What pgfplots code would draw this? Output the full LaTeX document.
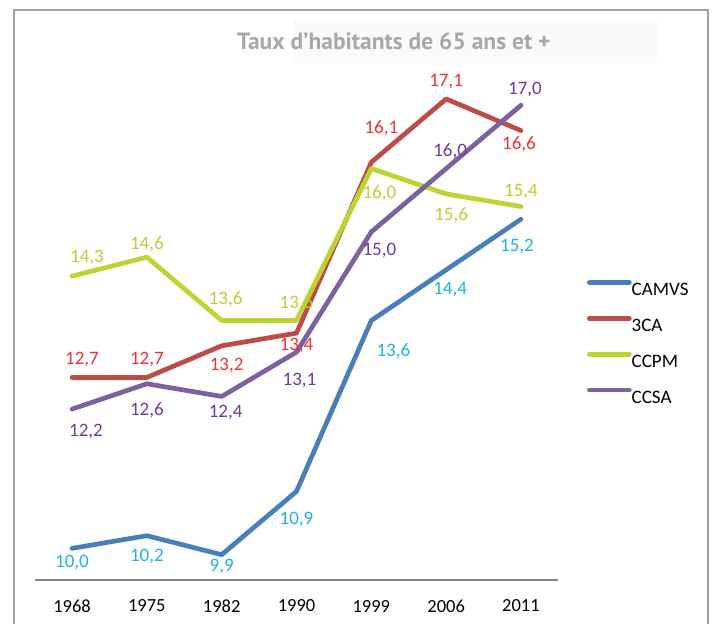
\documentclass[border=0pt]{standalone}
\usepackage{fontspec}
\setmainfont{Carlito}
\newfontfamily\titlefont{PT Sans}
\usepackage{pgfplots}
\usepackage{pgfplotstable}
\pgfplotsset{compat=1.18}

\definecolor{camvs}{RGB}{74,126,187}
\definecolor{tca}{RGB}{190,75,72}
\definecolor{ccpm}{RGB}{187,212,50}
\definecolor{ccsa}{RGB}{125,96,160}
\definecolor{camvsL}{RGB}{32,176,232}
\definecolor{tcaL}{RGB}{240,50,50}
\definecolor{ccpmL}{RGB}{181,208,52}
\definecolor{ccsaL}{RGB}{112,56,160}
\definecolor{titlegray}{RGB}{168,168,168}
\definecolor{framegray}{RGB}{160,160,160}
\definecolor{axisgray}{RGB}{134,134,134}
\definecolor{titlebg}{RGB}{250,250,250}

\pgfplotstableread{
x y dx dy lab
0 10.0 0 14 10,0
1 10.2 0 21 10,2
2 9.9 0 12 9,9
3 10.9 0 28 10,9
4 13.6 22 31 13,6
5 14.4 4 20 14,4
6 15.2 -4 27 15,2
}\tcamvs
\pgfplotstableread{
x y dx dy lab
0 12.7 10 -18 12,7
1 12.7 0 -18 12,7
2 13.2 5 20 13,2
3 13.4 0 12 13,4
4 16.1 10 -34 16,1
5 17.1 0 -17 17,1
6 16.6 -2 14 16,6
}\ttca
\pgfplotstableread{
x y dx dy lab
0 14.3 15 -19 14,3
1 14.6 0 -13 14,6
2 13.6 4 -21 13,6
3 13.6 0 -17 13,6
4 16.0 8 25 16,0
5 15.6 5 21 15,6
6 15.4 0 -15 15,4
}\tccpm
\pgfplotstableread{
x y dx dy lab
0 12.2 14 22 12,2
1 12.6 0 27 12,6
2 12.4 4 16 12,4
3 13.1 3 28 13,1
4 15.0 8 19 15,0
5 16.0 4 -17 16,0
6 17.0 4 -16 17,0
}\tccsa

\newcommand\labfont{\fontsize{19bp}{19bp}\selectfont}
\pgfplotsset{
  lab/.style={
    nodes near coords,
    point meta=explicit symbolic,
    visualization depends on={\thisrow{dx}\as\dx},
    visualization depends on={\thisrow{dy}\as\dy},
    nodes near coords style={text=#1, anchor=center, inner sep=0pt,
      xshift=\dx*1bp, yshift=-\dy*1bp, font=\labfont},
  },
  serie/.style={#1, line width=4.7bp, line join=round, line cap=round},
}

\begin{document}
\begin{tikzpicture}[x=1bp,y=1bp]
\path[use as bounding box] (0,0) rectangle (718,-624);
\fill[titlebg] (293,-20) rectangle (657,-63);
\draw[framegray, line width=1.5bp] (14,-630) -- (14,-10) -- (708,-10) -- (708,-630);
\node[anchor=west, inner sep=0pt, text=titlegray] at (237,-41.5)
  {\titlefont\bfseries\fontsize{23.5bp}{23.5bp}\selectfont Taux d’habitants de 65 ans et +};
\begin{axis}[
  at={(34.6bp,-580bp)}, anchor=south west,
  scale only axis, width=523.8bp, height=506.4bp,
  xmin=-0.5, xmax=6.5, ymin=9.5, ymax=17.5,
  axis x line=bottom, axis y line=none,
  x axis line style={draw=axisgray, line width=2bp, -},
  xtick={0,...,6}, xticklabels={1968,1975,1982,1990,1999,2006,2011},
  major tick length=0pt,
  xticklabel style={anchor=center, yshift=-26bp, inner sep=0pt,
    font=\fontsize{18.5bp}{18.5bp}\selectfont},
  clip=false,
  legend style={draw=none, fill=none, inner sep=0pt, outer sep=0pt,
    at={(1.0546,0.592)}, anchor=north west,
    font=\labfont, row sep=20.5bp,
    nodes={inner sep=0pt, text height=13bp, text depth=0pt}},
  legend cell align=left,
  legend image code/.code={\draw[#1, line width=4.7bp, line cap=round] (0bp,6.5bp) -- (40bp,6.5bp);},
]
\addplot[serie=camvs, lab=camvsL] table[x=x, y=y, meta=lab] {\tcamvs};
\addlegendentry{CAMVS}
\addplot[serie=tca, lab=tcaL] table[x=x, y=y, meta=lab] {\ttca};
\addlegendentry{3CA}
\addplot[serie=ccpm, lab=ccpmL] table[x=x, y=y, meta=lab] {\tccpm};
\addlegendentry{CCPM}
\addplot[serie=ccsa, lab=ccsaL] table[x=x, y=y, meta=lab] {\tccsa};
\addlegendentry{CCSA}
\end{axis}
\end{tikzpicture}
\end{document}
